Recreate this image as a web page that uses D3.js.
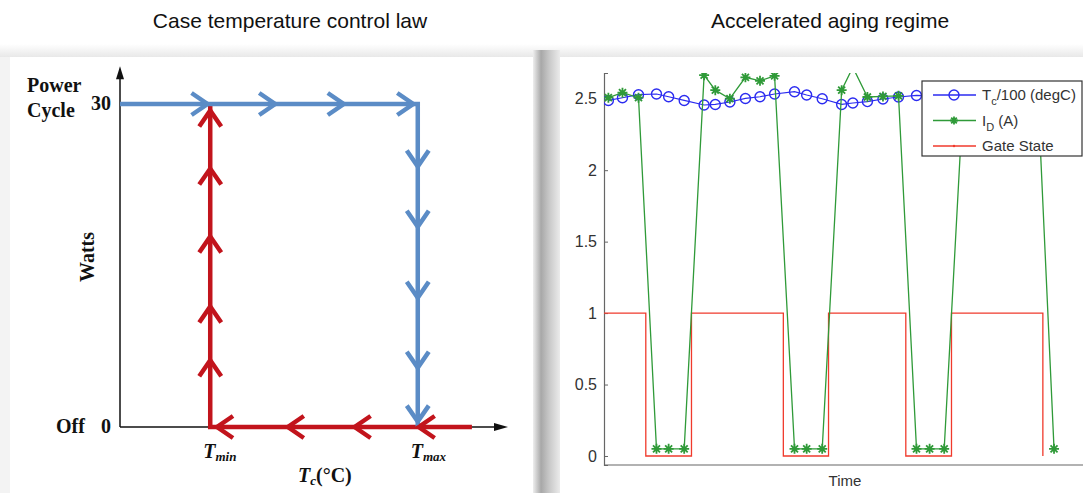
<!DOCTYPE html>
<html>
<head>
<meta charset="utf-8">
<script src="https://cdn.jsdelivr.net/npm/d3@7"></script>
<style>
  body { margin: 0; background: #fff; }
  svg { display: block; }
</style>
</head>
<body>
<svg id="vis" width="1083" height="493"></svg>
<script>
// ---- left panel: control law (temperature in arbitrary units, power in W)
var powerLevels = [0, 30];
var tempMarks = [
  { name: "min", t: 1.0 },
  { name: "max", t: 3.3 }
];
var bluePath = [[0, 30], [3.3, 30], [3.3, 0]];
var redPath = [[3.9, 0], [1.0, 0], [1.0, 30]];
// chevron tips: [temp, power, direction]
var blueChevrons = [
  [0.97, 30, "right"], [1.72, 30, "right"], [2.48, 30, "right"], [3.25, 30, "right"],
  [3.3, 24.2, "down"], [3.3, 18.6, "down"], [3.3, 12.0, "down"], [3.3, 5.5, "down"], [3.3, 0.5, "down"]
];
var redChevrons = [
  [1.075, 0, "left"], [1.86, 0, "left"], [2.6, 0, "left"], [3.31, 0, "left"],
  [1.0, 29.4, "up"], [1.0, 24.0, "up"], [1.0, 17.7, "up"], [1.0, 11.2, "up"], [1.0, 6.2, "up"]
];

// ---- right panel: accelerated aging regime
var sampleTime = [0.9, 3.8, 7.1, 10.8, 13.3, 16.5, 20.6, 22.9, 25.9, 29.1, 32.1, 35.1,
  39.2, 41.7, 44.9, 48.9, 51.2, 54.2, 57.4, 60.6, 64.3, 67.0, 70.0,
  73.9, 77.0, 80.0, 83.1, 86.2, 89.3, 92.6];
var caseTemp = [2.488, 2.507, 2.528, 2.533, 2.514, 2.488, 2.456, 2.46, 2.477, 2.502, 2.514, 2.533,
  2.549, 2.526, 2.5, 2.46, 2.47, 2.48, 2.498, 2.512, 2.523, 2.52, 2.51,
  2.49, 2.48, 2.49, 2.5, 2.51, 2.52, 2.51];
var drainCurrent = [2.507, 2.542, 2.507, 0.05, 0.05, 0.05, 2.665, 2.56, 2.5, 2.65, 2.625, 2.66,
  0.05, 0.05, 0.05, 2.56, 2.72, 2.512, 2.516, 2.52, 0.05, 0.05, 0.05,
  2.5, 2.52, 2.49, 2.51, 2.5, 2.52, 0.05];
var gateTime = [0, 8.6, 8.6, 18.0, 18.0, 36.9, 36.9, 46.2, 46.2, 62.1, 62.1, 71.5, 71.5, 90.3, 90.3];
var gateState = [1, 1, 0, 0, 1, 1, 0, 0, 1, 1, 0, 0, 1, 1, 0];
var yTicks = [0, 0.5, 1, 1.5, 2, 2.5];

var svg = d3.select("#vis");
var defs = svg.append("defs");

// card backgrounds / shadows
var topShade = defs.append("linearGradient").attr("id", "topShade")
  .attr("x1", 0).attr("y1", 0).attr("x2", 0).attr("y2", 1);
topShade.append("stop").attr("offset", 0).attr("stop-color", "#fff");
topShade.append("stop").attr("offset", 1).attr("stop-color", "#e8e8e8");
var gapShade = defs.append("linearGradient").attr("id", "gapShade");
gapShade.append("stop").attr("offset", 0).attr("stop-color", "#eeeeee");
gapShade.append("stop").attr("offset", 0.3).attr("stop-color", "#a8a8a8");
gapShade.append("stop").attr("offset", 0.6).attr("stop-color", "#c8c8c8");
gapShade.append("stop").attr("offset", 1).attr("stop-color", "#ebebeb");

svg.append("rect").attr("x", 0).attr("y", 44).attr("width", 1083).attr("height", 13)
  .attr("fill", "url(#topShade)");
svg.append("rect").attr("x", 0).attr("y", 57).attr("width", 10).attr("height", 436)
  .attr("fill", "#f3f3f3");
svg.append("rect").attr("x", 10).attr("y", 57).attr("width", 523).attr("height", 436)
  .attr("fill", "#fff");
svg.append("rect").attr("x", 533).attr("y", 50).attr("width", 27).attr("height", 443)
  .attr("fill", "url(#gapShade)");
svg.append("rect").attr("x", 560).attr("y", 57).attr("width", 523).attr("height", 436)
  .attr("fill", "#fff");

// titles
svg.append("text").attr("x", 290).attr("y", 28).attr("text-anchor", "middle")
  .style("font", "21px 'Liberation Sans', Arial, sans-serif").attr("fill", "#111")
  .text("Case temperature control law");
svg.append("text").attr("x", 830).attr("y", 28).attr("text-anchor", "middle")
  .style("font", "21px 'Liberation Sans', Arial, sans-serif").attr("fill", "#111")
  .text("Accelerated aging regime");

// ================= left panel =================
var serif = "'Liberation Serif', 'Times New Roman', serif";
var xT = d3.scaleLinear().domain([0, 4.3]).range([120, 508]);
var yP = d3.scaleLinear().domain([0, 30]).range([427, 104]);
var left = svg.append("g");

// axes with arrow heads
left.append("line").attr("x1", xT(0)).attr("y1", yP(0)).attr("x2", xT(0)).attr("y2", yP(33.5) + 8)
  .attr("stroke", "#111").attr("stroke-width", 1.5);
left.append("path")
  .attr("d", "M" + xT(0) + "," + yP(33.5) + "l-4,13l8,0z").attr("fill", "#111");
left.append("line").attr("x1", xT(0)).attr("y1", yP(0)).attr("x2", xT(4.3) - 8).attr("y2", yP(0))
  .attr("stroke", "#111").attr("stroke-width", 1.5);
left.append("path")
  .attr("d", "M" + xT(4.3) + "," + yP(0) + "l-14,-4l0,8z").attr("fill", "#111");

var line = d3.line().x(function(d) { return xT(d[0]); }).y(function(d) { return yP(d[1]); });
var blue = "#5b8cc6", red = "#c2141c";

left.append("path").attr("d", line(redPath)).attr("fill", "none")
  .attr("stroke", red).attr("stroke-width", 4.5);
left.append("path").attr("d", line(bluePath)).attr("fill", "none")
  .attr("stroke", blue).attr("stroke-width", 4.5);

function chevron(d) {
  var x = xT(d[0]), y = yP(d[1]), L = 16, W = 11;
  var a, b;
  if (d[2] == "right") { a = [x - L, y - W]; b = [x - L, y + W]; }
  if (d[2] == "left") { a = [x + L, y - W]; b = [x + L, y + W]; }
  if (d[2] == "down") { a = [x - W, y - L]; b = [x + W, y - L]; }
  if (d[2] == "up") { a = [x - W, y + L]; b = [x + W, y + L]; }
  return "M" + a.join(",") + "L" + x + "," + y + "L" + b.join(",");
}
left.selectAll(".chevR").data(redChevrons).enter().append("path")
  .attr("d", chevron).attr("fill", "none").attr("stroke", red)
  .attr("stroke-width", 4.5).attr("stroke-linejoin", "miter");
left.selectAll(".chevB").data(blueChevrons).enter().append("path")
  .attr("d", chevron).attr("fill", "none").attr("stroke", blue)
  .attr("stroke-width", 4.5).attr("stroke-linejoin", "miter");

// labels
var lab = left.append("g").style("font-family", serif).style("font-weight", "bold")
  .style("font-size", "20px").attr("fill", "#111");
lab.selectAll(".pl").data(powerLevels).enter().append("text")
  .attr("x", 111).attr("y", function(d) { return yP(d) + 6; })
  .attr("text-anchor", "end").text(function(d) { return d; });
lab.append("text").attr("x", 27).attr("y", 92).text("Power");
lab.append("text").attr("x", 27).attr("y", 117).text("Cycle");
lab.append("text").attr("x", 56).attr("y", yP(0) + 6).text("Off");
lab.append("text").attr("transform", "translate(94,257) rotate(-90)")
  .attr("text-anchor", "middle").text("Watts");
tempMarks.forEach(function(m) {
  var t = lab.append("text").attr("x", xT(m.t) - 7).attr("y", 458).style("font-style", "italic");
  t.append("tspan").text("T");
  t.append("tspan").attr("dy", 3).style("font-size", "13px").text(m.name);
});
var tc = lab.append("text").attr("x", 298).attr("y", 482);
tc.append("tspan").style("font-style", "italic").text("T");
tc.append("tspan").attr("dy", 3).style("font-size", "13px").style("font-style", "italic").text("c");
tc.append("tspan").attr("dy", -3).text("(\u00b0C)");

// ================= right panel =================
var sans = "'Liberation Sans', Helvetica, Arial, sans-serif";
var xS = d3.scaleLinear().domain([0, 100]).range([604, 1090]);
var yS = d3.scaleLinear().domain([-0.063, 2.68]).range([465, 73]);
var right = svg.append("g");

defs.append("clipPath").attr("id", "plotClip").append("rect")
  .attr("x", 604).attr("y", 73).attr("width", 480).attr("height", 392);

var yAxis = d3.axisLeft(yS).tickValues(yTicks).tickSize(-4).tickPadding(7)
  .tickFormat(function(d) { return d3.format("")(d); });
var ga = right.append("g").attr("transform", "translate(604,0)").call(yAxis);
ga.select(".domain").attr("stroke", "#666").attr("stroke-width", 1.2);
ga.selectAll(".tick line").attr("stroke", "#666");
ga.selectAll(".tick text").style("font", "16px " + sans).attr("fill", "#333");
right.append("line").attr("x1", 604).attr("x2", 1083).attr("y1", yS(-0.063)).attr("y2", yS(-0.063))
  .attr("stroke", "#666").attr("stroke-width", 1.2);
right.append("text").attr("x", 845).attr("y", 486).attr("text-anchor", "middle")
  .style("font", "15px " + sans).attr("fill", "#333").text("Time");

var plot = right.append("g").attr("clip-path", "url(#plotClip)");
var cBlue = "#2b2bf0", cGreen = "#2f9a38", cRed = "#f03a2c";

var gateLine = d3.line().x(function(d, i) { return xS(gateTime[i]); }).y(function(d) { return yS(d); });
plot.append("path").attr("d", gateLine(gateState)).attr("fill", "none")
  .attr("stroke", cRed).attr("stroke-width", 1.3);

var sLine = d3.line().x(function(d, i) { return xS(sampleTime[i]); }).y(function(d) { return yS(d); });
plot.append("path").attr("d", sLine(caseTemp)).attr("fill", "none")
  .attr("stroke", cBlue).attr("stroke-width", 1.2);
plot.selectAll(".tc").data(caseTemp).enter().append("circle")
  .attr("cx", function(d, i) { return xS(sampleTime[i]); })
  .attr("cy", function(d) { return yS(d); })
  .attr("r", 5).attr("fill", "none").attr("stroke", cBlue).attr("stroke-width", 1.4);

plot.append("path").attr("d", sLine(drainCurrent)).attr("fill", "none")
  .attr("stroke", cGreen).attr("stroke-width", 1.3);
function star(x, y, s) {
  var d = s * 0.7;
  return "M" + (x - s) + "," + y + "h" + 2 * s + "M" + x + "," + (y - s) + "v" + 2 * s +
    "M" + (x - d) + "," + (y - d) + "l" + 2 * d + "," + 2 * d +
    "M" + (x - d) + "," + (y + d) + "l" + 2 * d + "," + -2 * d;
}
plot.selectAll(".id").data(drainCurrent).enter().append("path")
  .attr("d", function(d, i) { return star(xS(sampleTime[i]), yS(d), 5); })
  .attr("fill", "none").attr("stroke", cGreen).attr("stroke-width", 1.8);

// legend
var leg = right.append("g").attr("transform", "translate(922,81)");
leg.append("rect").attr("width", 160).attr("height", 75).attr("fill", "#fff")
  .attr("stroke", "#333").attr("stroke-width", 1.2);
var legItems = [
  { color: cBlue, main: "T", sub: "c", rest: "/100 (degC)", mark: "circle" },
  { color: cGreen, main: "I", sub: "D", rest: " (A)", mark: "star" },
  { color: cRed, main: "Gate State", sub: "", rest: "", mark: "dot" }
];
legItems.forEach(function(it, i) {
  var y = 14 + i * 25.5;
  leg.append("line").attr("x1", 11).attr("x2", 54).attr("y1", y).attr("y2", y)
    .attr("stroke", it.color).attr("stroke-width", 1.3);
  if (it.mark == "circle") leg.append("circle").attr("cx", 32).attr("cy", y).attr("r", 5)
    .attr("fill", "none").attr("stroke", it.color).attr("stroke-width", 1.4);
  if (it.mark == "star") leg.append("path").attr("d", star(32, y, 4))
    .attr("fill", "none").attr("stroke", it.color).attr("stroke-width", 1.8);
  if (it.mark == "dot") leg.append("circle").attr("cx", 32).attr("cy", y).attr("r", 1.2)
    .attr("fill", it.color);
  var t = leg.append("text").attr("x", 60).attr("y", y + 5)
    .style("font", "15px " + sans).attr("fill", "#333");
  t.append("tspan").text(it.main);
  if (it.sub) {
    t.append("tspan").attr("dy", 5).style("font-size", "11px").text(it.sub);
    t.append("tspan").attr("dy", -5).text(it.rest);
  }
});
</script>
</body>
</html>
